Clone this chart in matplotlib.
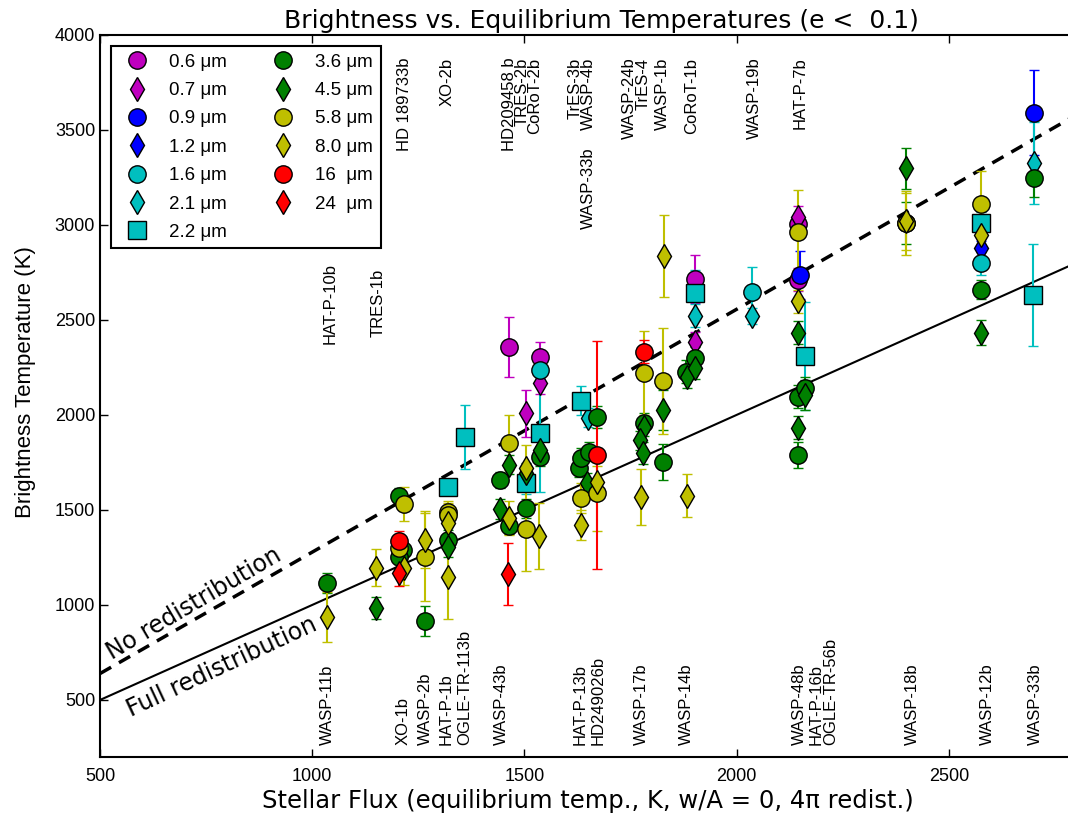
import numpy as np
import matplotlib
matplotlib.use('Agg')
from matplotlib import pyplot as plt
from matplotlib.lines import Line2D

plt.rcParams['font.family'] = ['Liberation Sans', 'DejaVu Sans']

# x = equilibrium temperature (K), y = brightness temperature (K), e = 1-sigma error
teq_06 = [1464, 1537, 1902, 2145, 2145]
tb_06 = [2356, 2305, 2716, 2711, 3005]
err_06 = [157, 80, 126, 60, 60]

teq_07 = [1503, 1537, 1902, 2145]
tb_07 = [2009, 2168, 2386, 3040]
err_07 = [123, 60, 50, 60]

teq_09 = [2149, 2700]
tb_09 = [2737, 3591]
err_09 = [126, 225]

teq_12 = [2575]
tb_12 = [2877]
err_12 = [40]

teq_16 = [1537, 2037, 2575]
tb_16 = [2237, 2649, 2798]
err_16 = [40, 131, 60]

teq_21 = [1650, 1902, 2037, 2700]
tb_21 = [1984, 2523, 2521, 3325]
err_21 = [50, 60, 40, 217]

teq_22 = [1321, 1360, 1503, 1537, 1633, 1902, 2162, 2575, 2698]
tb_22 = [1623, 1884, 1644, 1905, 2075, 2642, 2311, 3009, 2632]
err_22 = [40, 166, 60, 310, 76, 120, 283, 60, 267]

teq_36 = [1035, 1205, 1214, 1205, 1266, 1321, 1442, 1464, 1503, 1537, 1628, 1633,
          1652, 1671, 1781, 1826, 1880, 1902, 2145, 2162, 2145, 2398, 2575, 2700]
tb_36 = [1116, 1574, 1290, 1255, 916, 1342, 1658, 1416, 1510, 1781, 1721, 1774,
         1807, 1989, 1958, 1753, 2228, 2300, 2095, 2142, 1789, 3009, 2658, 3249]
err_36 = [53, 40, 40, 40, 77, 50, 40, 40, 50, 50, 50, 50,
          50, 58, 50, 94, 60, 60, 60, 60, 70, 112, 50, 100]

teq_45 = [1150, 1321, 1442, 1464, 1503, 1537, 1647, 1781, 1772, 1779, 1826, 1883,
          1902, 2145, 2162, 2145, 2398, 2575]
tb_45 = [984, 1305, 1505, 1737, 1695, 1816, 1642, 1937, 1868, 1800, 2026, 2202,
         2247, 2433, 2105, 1932, 3298, 2433]
err_45 = [58, 50, 50, 50, 50, 50, 50, 50, 50, 60, 105, 60,
          60, 60, 80, 60, 108, 66]

teq_58 = [1216, 1205, 1266, 1321, 1321, 1464, 1503, 1633, 1671, 1781, 1826, 2145,
          2398, 2575]
tb_58 = [1532, 1300, 1253, 1489, 1474, 1854, 1400, 1563, 1589, 2221, 2179, 2963,
         3009, 3111]
err_58 = [90, 50, 230, 60, 60, 145, 221, 80, 200, 222, 278, 220,
          167, 175]

teq_80 = [1035, 1150, 1216, 1266, 1321, 1321, 1464, 1503, 1534, 1633, 1671, 1774,
          1829, 1883, 2145, 2398, 2575]
tb_80 = [937, 1195, 1195, 1342, 1432, 1147, 1458, 1721, 1363, 1421, 1649, 1568,
         2837, 1574, 2597, 3020, 2947]
err_80 = [132, 97, 90, 150, 60, 220, 90, 120, 173, 80, 80, 147,
          215, 113, 60, 150, 60]

teq_160 = [1204, 1671, 1781]
tb_160 = [1337, 1789, 2333]
err_160 = [50, 600, 60]

teq_240 = [1204, 1462]
tb_240 = [1168, 1163]
err_240 = [70, 163]

bands = [
    ('0.6 μm', 'm', 'o', teq_06, tb_06, err_06),
    ('0.7 μm', 'm', 'd', teq_07, tb_07, err_07),
    ('0.9 μm', 'b', 'o', teq_09, tb_09, err_09),
    ('1.2 μm', 'b', 'd', teq_12, tb_12, err_12),
    ('1.6 μm', 'c', 'o', teq_16, tb_16, err_16),
    ('2.1 μm', 'c', 'd', teq_21, tb_21, err_21),
    ('2.2 μm', 'c', 's', teq_22, tb_22, err_22),
    ('3.6 μm', 'g', 'o', teq_36, tb_36, err_36),
    ('4.5 μm', 'g', 'd', teq_45, tb_45, err_45),
    ('5.8 μm', 'y', 'o', teq_58, tb_58, err_58),
    ('8.0 μm', 'y', 'd', teq_80, tb_80, err_80),
    ('16  μm', 'r', 'o', teq_160, tb_160, err_160),
    ('24  μm', 'r', 'd', teq_240, tb_240, err_240),
]

# planet names along the top and bottom of the plot
top_names = ['HAT-P-10b', 'TRES-1b', 'HD 189733b', 'XO-2b', 'HD209458 b', 'TRES-2b',
             'CoRoT-2b', 'TrES-3b', 'WASP-4b', 'WASP-33b', 'WASP-24b', 'TrES-4',
             'WASP-1b', 'CoRoT-1b', 'WASP-19b', 'HAT-P-7b']
top_teq = [1042, 1155, 1218, 1317, 1466, 1494, 1525, 1619, 1650, 1650, 1748, 1779,
           1826, 1895, 2043, 2149]
top_y = [2800, 2770, 3880, 3880, 3880, 3880, 3880, 3880, 3880, 3410, 3880, 3880,
         3880, 3880, 3880, 3880]

bot_names = ['WASP-11b', 'XO-1b', 'WASP-2b', 'HAT-P-1b', 'OGLE-TR-113b', 'WASP-43b',
             'HAT-P-13b', 'HD249026b', 'WASP-17b', 'WASP-14b', 'WASP-48b', 'HAT-P-16b',
             'OGLE-TR-56b', 'WASP-18b', 'WASP-12b', 'WASP-33b']
bot_teq = [1035, 1214, 1268, 1315, 1360, 1447, 1631, 1673, 1776, 1882, 2149, 2187,
           2222, 2415, 2592, 2703]

fig = plt.figure(figsize=(10.68, 8.16), dpi=100)
ax = fig.add_axes([0.0936, 0.0723, 0.914, 0.885])

tx = np.array([500, 2800])
ax.plot(tx, tx, 'k-', lw=1.5)
ax.plot(tx, tx * (8.0 / 3.0) ** 0.25, color='k', lw=2.5, linestyle=(0, (3.7, 2.6)))

handles = []
for label, c, m, x, y, e in bands:
    ax.errorbar(x, y, yerr=e, fmt=m, color=c, mfc=c, mec='k', mew=1.0, ms=12.5,
                ecolor=c, elinewidth=1.5, capsize=3.6, capthick=1.5)
    handles.append(Line2D([], [], ls='none', marker=m, mfc=c, mec='k', mew=1.0,
                          ms=12.5, label=label))

for name, t, yy in zip(top_names, top_teq, top_y):
    ax.text(t, yy, name, rotation=90, ha='center', va='top', fontsize=12)
for name, t in zip(bot_names, bot_teq):
    ax.text(t, 265, name, rotation=90, ha='center', va='bottom', fontsize=12)

ax.text(535, 690, 'No redistribution', rotation=30.5, rotation_mode='anchor',
        ha='left', va='bottom', fontsize=17, family='DejaVu Sans')
ax.text(555, 500, 'Full redistribution', rotation=25, rotation_mode='anchor',
        ha='left', va='top', fontsize=17, family='DejaVu Sans')

ax.set_xlim(500, 2800)
ax.set_ylim(200, 4000)
ax.set_xticks([500, 1000, 1500, 2000, 2500])
ax.set_yticks([500, 1000, 1500, 2000, 2500, 3000, 3500, 4000])
ax.tick_params(direction='in', top=True, right=True, labelsize=13, length=6, width=1)
ax.tick_params(axis='x', pad=8)
for s in ax.spines.values():
    s.set_linewidth(1.5)

ax.set_title('Brightness vs. Equilibrium Temperatures (e <  0.1)', fontsize=18,
             family='DejaVu Sans', pad=5, x=0.514)
ax.set_xlabel('Stellar Flux (equilibrium temp., K, w/A = 0, 4π redist.)', fontsize=17.5,
              family='DejaVu Sans', labelpad=3)
ax.set_ylabel('Brightness Temperature (K)', fontsize=16)
ax.yaxis.set_label_coords(-0.066, 0.519)

leg = ax.legend(handles=handles, loc='upper left', ncol=2, numpoints=1, fontsize=13.5,
                fancybox=False, edgecolor='k', framealpha=1, borderaxespad=0.6,
                columnspacing=2.0, handletextpad=0.7, labelspacing=0.6)
leg.get_frame().set_linewidth(1.5)

fig.savefig('out.png', dpi=100)
